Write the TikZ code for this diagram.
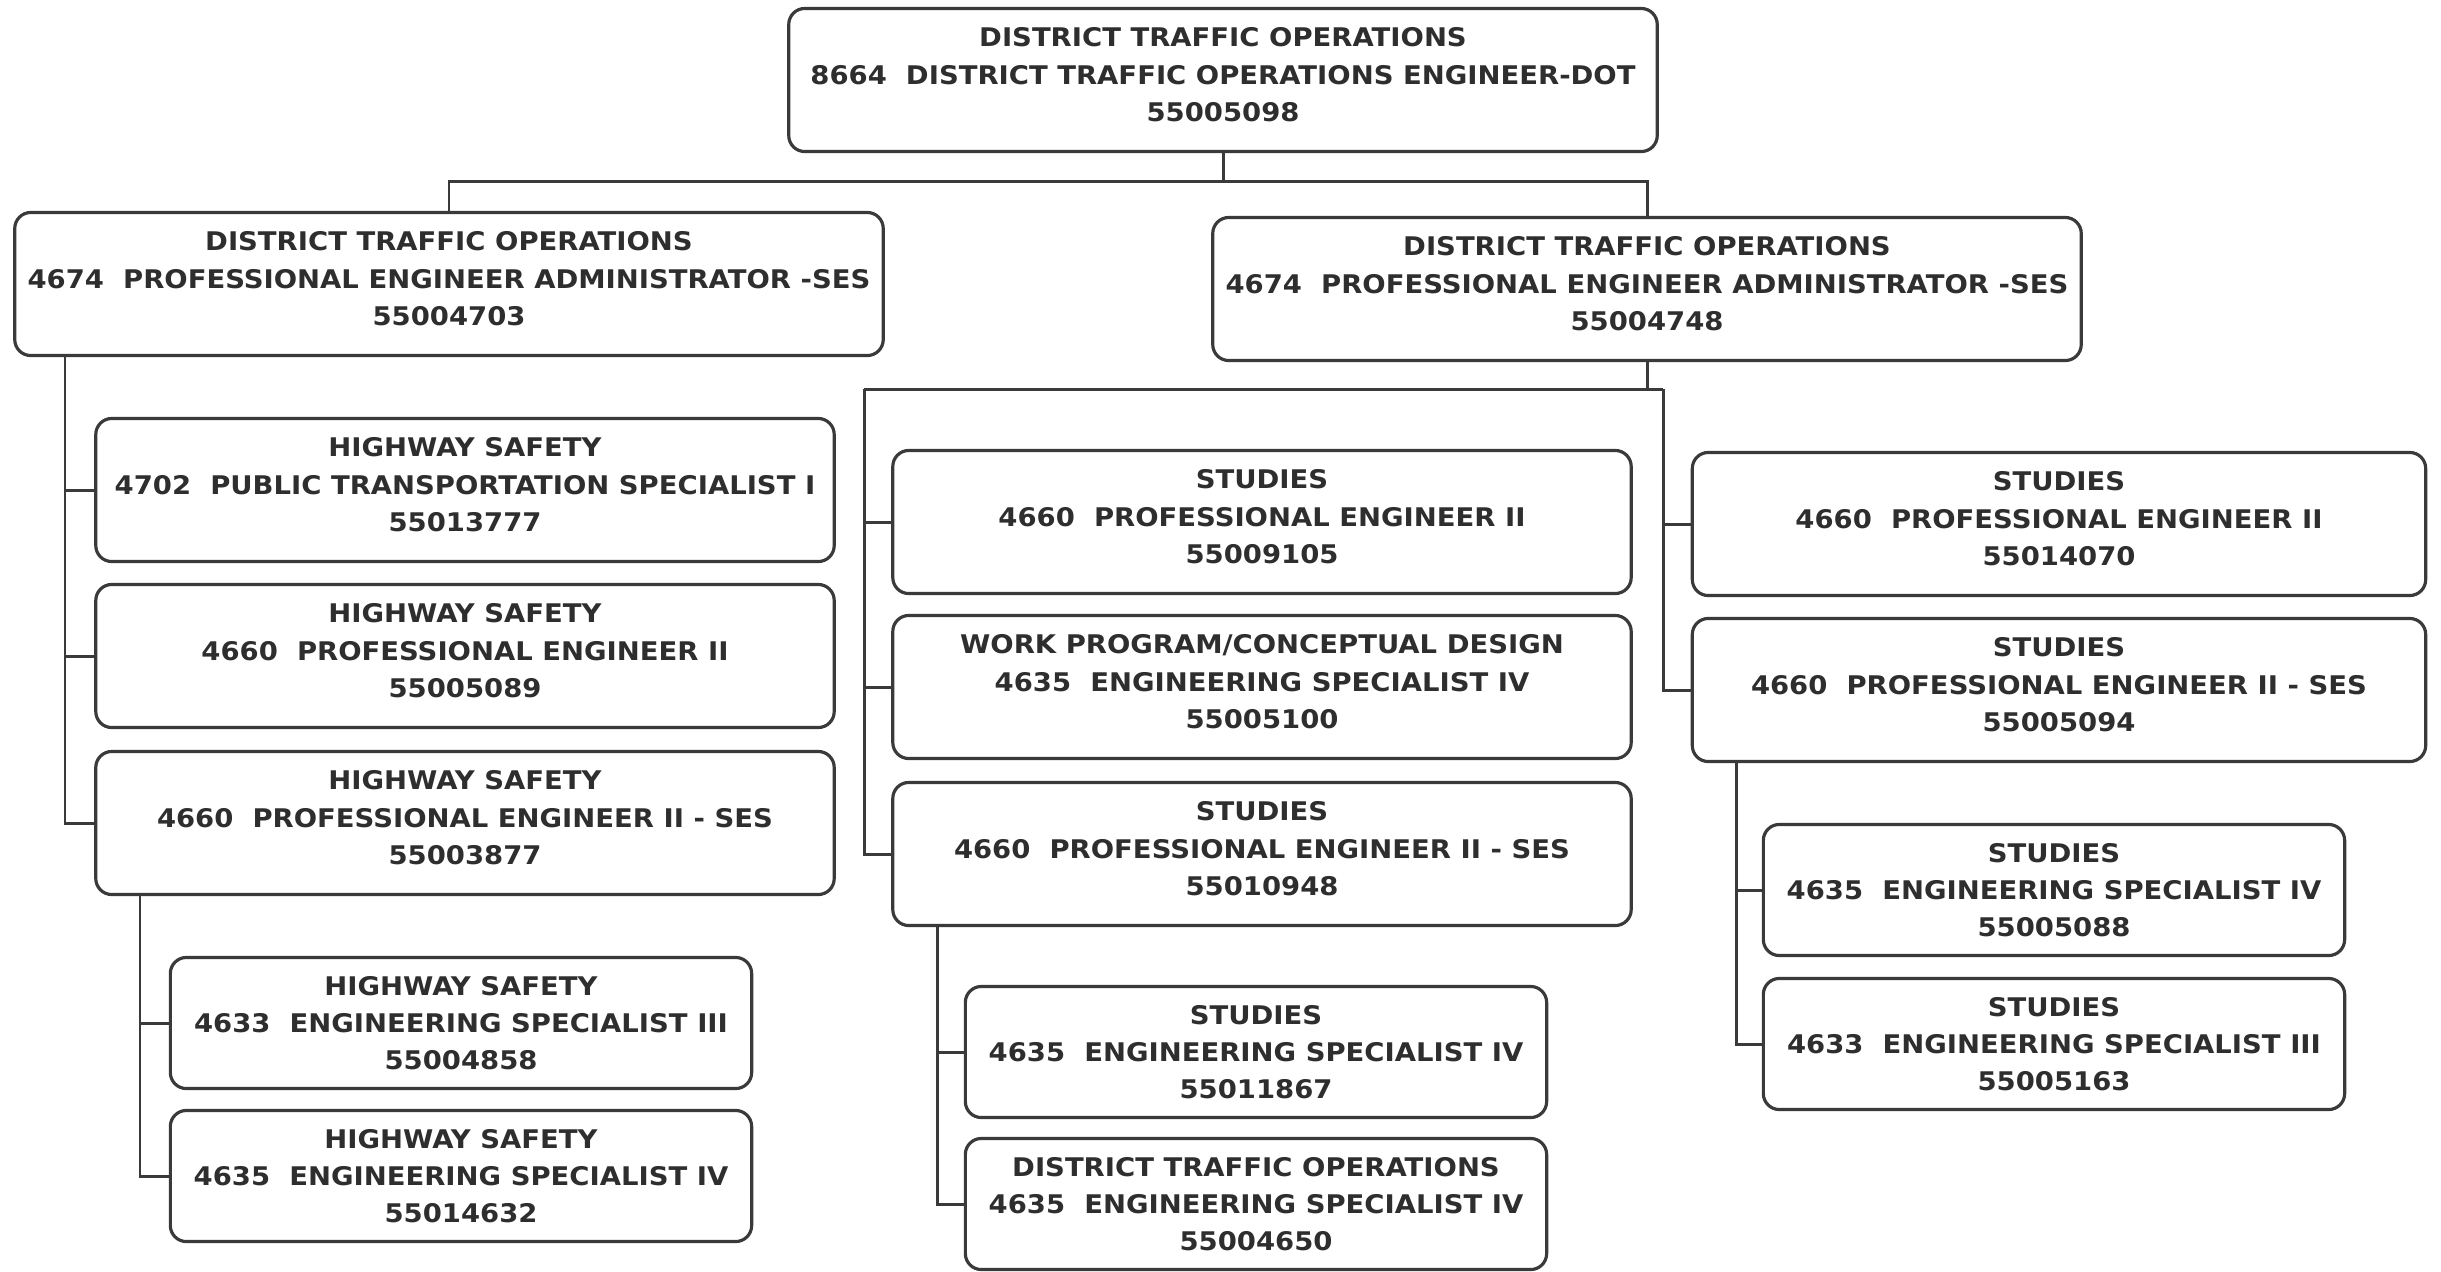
\documentclass[tikz,border=0pt]{standalone}
\usepackage{fontspec}
\setmainfont{DejaVu Sans}[FakeStretch=1.07]
\definecolor{textgray}{HTML}{2E2E2E}
\definecolor{linegray}{HTML}{3A3A3A}
\begin{document}
\begin{tikzpicture}[x=0.01cm,y=-0.01cm,
  link/.style={draw=linegray, line width=0.85pt},
  post/.style={draw=linegray, line width=0.9pt, rounded corners=0.16cm, fill=white,
    align=center, inner sep=0pt, text=textgray, text depth=3pt,
    font=\fontsize{7.3}{10.6}\selectfont\bfseries, minimum height=1.43cm},
  headpost/.style={post, minimum width=8.68cm},
  midpost/.style={post, minimum width=7.38cm},
  rightpost/.style={post, minimum width=7.33cm},
  smallpost/.style={post, minimum width=5.81cm, minimum height=1.31cm, text depth=0pt},
]
\useasboundingbox (0,0) rectangle (2441,1272);
\fill[white] (0,0) rectangle (2441,1272);

% ---- top level ----
\node[headpost] (top) at (1223,80) {DISTRICT TRAFFIC OPERATIONS\\8664\ \ DISTRICT TRAFFIC OPERATIONS ENGINEER-DOT\\55005098};

% ---- second level ----
\node[headpost] (L1) at (449,284) {DISTRICT TRAFFIC OPERATIONS\\4674\ \ PROFESSIONAL ENGINEER ADMINISTRATOR -SES\\55004703};
\node[headpost] (R1) at (1647,289) {DISTRICT TRAFFIC OPERATIONS\\4674\ \ PROFESSIONAL ENGINEER ADMINISTRATOR -SES\\55004748};

% ---- highway safety branch ----
\node[midpost] (HS1) at (465,490) {HIGHWAY SAFETY\\4702\ \ PUBLIC TRANSPORTATION SPECIALIST I\\55013777};
\node[midpost] (HS2) at (465,656) {HIGHWAY SAFETY\\4660\ \ PROFESSIONAL ENGINEER II\\55005089};
\node[midpost] (HS3) at (465,823) {HIGHWAY SAFETY\\4660\ \ PROFESSIONAL ENGINEER II - SES\\55003877};
\node[smallpost] (HS4) at (461,1023) {HIGHWAY SAFETY\\4633\ \ ENGINEERING SPECIALIST III\\55004858};
\node[smallpost] (HS5) at (461,1176) {HIGHWAY SAFETY\\4635\ \ ENGINEERING SPECIALIST IV\\55014632};

% ---- studies branch, left column ----
\node[midpost] (S1) at (1262,522) {STUDIES\\4660\ \ PROFESSIONAL ENGINEER II\\55009105};
\node[midpost] (W1) at (1262,687) {WORK PROGRAM/CONCEPTUAL DESIGN\\4635\ \ ENGINEERING SPECIALIST IV\\55005100};
\node[midpost] (S2) at (1262,854) {STUDIES\\4660\ \ PROFESSIONAL ENGINEER II - SES\\55010948};
\node[smallpost] (S3) at (1256,1052) {STUDIES\\4635\ \ ENGINEERING SPECIALIST IV\\55011867};
\node[smallpost] (D1) at (1256,1204) {DISTRICT TRAFFIC OPERATIONS\\4635\ \ ENGINEERING SPECIALIST IV\\55004650};

% ---- studies branch, right column ----
\node[rightpost] (S4) at (2059,524) {STUDIES\\4660\ \ PROFESSIONAL ENGINEER II\\55014070};
\node[rightpost] (S5) at (2059,690) {STUDIES\\4660\ \ PROFESSIONAL ENGINEER II - SES\\55005094};
\node[smallpost] (S6) at (2054,890) {STUDIES\\4635\ \ ENGINEERING SPECIALIST IV\\55005088};
\node[smallpost] (S7) at (2054,1044) {STUDIES\\4633\ \ ENGINEERING SPECIALIST III\\55005163};

% ---- connectors: top to second level ----
\coordinate (bus) at (0,181);
\draw[link] (top.south) -- (top.south |- bus);
\draw[link] (L1.north) -- (L1.north |- bus) -- (R1.north |- bus) -- (R1.north);

% ---- connectors: highway safety ----
\coordinate (spA) at (65,0);
\draw[link] (spA |- L1.south) |- (HS3.west);
\draw[link] (spA |- HS1.west) -- (HS1.west);
\draw[link] (spA |- HS2.west) -- (HS2.west);
\coordinate (spB) at (140,0);
\draw[link] (spB |- HS3.south) |- (HS5.west);
\draw[link] (spB |- HS4.west) -- (HS4.west);

% ---- connectors: studies ----
\coordinate (spL) at (864,389);
\coordinate (spR) at (1663,389);
\draw[link] (R1.south) -- (R1.south |- spL);
\draw[link] (spL) -- (spR);
\draw[link] (spL) |- (S2.west);
\draw[link] (spL |- S1.west) -- (S1.west);
\draw[link] (spL |- W1.west) -- (W1.west);
\draw[link] (spR) |- (S5.west);
\draw[link] (spR |- S4.west) -- (S4.west);
\coordinate (spC) at (937,0);
\draw[link] (spC |- S2.south) |- (D1.west);
\draw[link] (spC |- S3.west) -- (S3.west);
\coordinate (spD) at (1736,0);
\draw[link] (spD |- S5.south) |- (S7.west);
\draw[link] (spD |- S6.west) -- (S6.west);
\end{tikzpicture}
\end{document}
